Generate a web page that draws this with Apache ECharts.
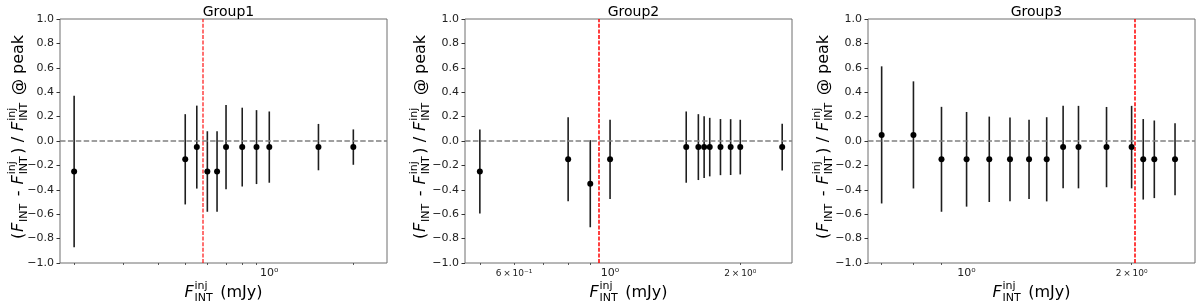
<!DOCTYPE html>
<html><head><meta charset="utf-8">
<script src="https://cdn.jsdelivr.net/npm/echarts@6/dist/echarts.min.js"></script>
<style>html,body{margin:0;padding:0;background:#fff}#c{width:1200px;height:308px}</style>
</head><body><div id="c"></div>
<script>
// ---------------- data ----------------
const groupTitles = ['Group1', 'Group2', 'Group3'];

const g1X   = [0.2, 0.5, 0.55, 0.6, 0.65, 0.7, 0.8, 0.9, 1.0, 1.5, 2.0];
const g1Y   = [-0.25, -0.15, -0.05, -0.25, -0.25, -0.05, -0.05, -0.05, -0.05, -0.05, -0.05];
const g1Err = [0.62, 0.37, 0.34, 0.33, 0.33, 0.345, 0.323, 0.303, 0.292, 0.19, 0.145];

const g2X   = [0.5, 0.8, 0.9, 1.0, 1.5, 1.6, 1.65, 1.7, 1.8, 1.9, 2.0, 2.5];
const g2Y   = [-0.25, -0.15, -0.35, -0.15, -0.05, -0.05, -0.05, -0.05, -0.05, -0.05, -0.05, -0.05];
const g2Err = [0.345, 0.344, 0.357, 0.325, 0.292, 0.27, 0.253, 0.24, 0.23, 0.229, 0.224, 0.191];

const g3X   = [0.7, 0.8, 0.9, 1.0, 1.1, 1.2, 1.3, 1.4, 1.5, 1.6, 1.8, 2.0, 2.1, 2.2, 2.4];
const g3Y   = [0.05, 0.05, -0.15, -0.15, -0.15, -0.15, -0.15, -0.15, -0.05, -0.05, -0.05, -0.05, -0.15, -0.15, -0.15];
const g3Err = [0.562, 0.439, 0.43, 0.388, 0.35, 0.343, 0.325, 0.345, 0.338, 0.338, 0.329, 0.338, 0.33, 0.318, 0.295];

const limitLines = [0.58, 0.94, 2.03];          // red dashed vertical lines
const xLimits = [[0.178, 2.64], [0.462, 2.634], [0.661, 2.61]];
const yMin = -1.0, yMax = 1.0, yStep = 0.2;
const xMajorTicks = [1];
const xMinorTicks = [0.2, 0.3, 0.4, 0.5, 0.6, 0.7, 0.8, 0.9, 2, 3];
const xMinorLabelTicks = [[], [0.6, 2], [2]];
const xMajorLabels = {'1': '10\u2070'};
const xMinorLabels = {'0.6': '6\u2009\u00d7\u200910\u207b\u00b9', '2': '2\u2009\u00d7\u200910\u2070'};

const groupsX = [g1X, g2X, g3X];
const groupsY = [g1Y, g2Y, g3Y];
const groupsErr = [g1Err, g2Err, g3Err];

// ---------------- layout ----------------
const FONT = '"DejaVu Sans", sans-serif';
const panelLeft = [60, 465, 868];
const panelWidth = 327;
const panelTop = 19, panelHeight = 244;
const yNameX = [19, 421, 824];

const measCtx = document.createElement('canvas').getContext('2d');
function tw(t, size, italic) {
  measCtx.font = (italic ? 'italic ' : '') + size + 'px "DejaVu Sans"';
  return measCtx.measureText(t).width;
}
function txt(t, x, y, size, italic) {
  return {type: 'text', x: x, y: y, style: {
    text: t, fontSize: size, fontFamily: FONT, fontStyle: italic ? 'italic' : 'normal',
    fill: '#000', align: 'left', textAlign: 'left', verticalAlign: 'middle', textVerticalAlign: 'middle'}};
}
function mathLabel(pieces, cx, cy, rot) {
  let x = 0; const kids = [];
  pieces.forEach(p => {
    if (p.stack) {
      let w = 0;
      p.stack.forEach(q => { kids.push(txt(q.t, x, q.dy, q.s, false)); w = Math.max(w, tw(q.t, q.s, false)); });
      x += w + (p.after || 0);
    } else {
      kids.push(txt(p.t, x, p.dy || 0, p.s, p.it));
      x += tw(p.t, p.s, p.it) + (p.after || 0);
    }
  });
  kids.forEach(k => { k.x -= x / 2; });
  return {type: 'group', x: cx, y: cy, rotation: rot, children: kids, silent: true};
}
const S = 16, s = 11;
const Fp = {t: 'F', s: S, it: true, after: 0.8};
const subINT = {t: 'INT', s: s, dy: 5, after: 2.5};
const stackInj = {stack: [{t: 'inj', s: s, dy: -7}, {t: 'INT', s: s, dy: 5}], after: 2.5};
const yNamePieces = [{t: '(', s: S, after: 0.8}, Fp, subINT, {t: ' - ', s: S, after: 1}, Fp, stackInj,
  {t: ') / ', s: S, after: 1}, Fp, stackInj, {t: ' @ peak', s: S}];
const xNamePieces = [Fp, stackInj, {t: ' (mJy)', s: S}];

const option = {
  animation: false,
  backgroundColor: '#fff',
  title: [], grid: [], xAxis: [], yAxis: [], series: [], graphic: []
};

for (let i = 0; i < 3; i++) {
  const cx = panelLeft[i] + panelWidth / 2;
  option.title.push({text: groupTitles[i], left: cx, top: 0, textAlign: 'center',
    textStyle: {fontFamily: FONT, fontSize: 14, fontWeight: 'normal', color: '#000'}});
  option.grid.push({left: panelLeft[i], top: panelTop, width: panelWidth, height: panelHeight,
    show: true, borderColor: '#6e6e6e', borderWidth: 1, backgroundColor: 'transparent'});
  // major x axis
  option.xAxis.push({type: 'log', logBase: 10, gridIndex: i, position: 'bottom', min: xLimits[i][0], max: xLimits[i][1],
    axisLine: {show: false}, splitLine: {show: false},
    axisTick: {show: true, customValues: xMajorTicks, length: 3.5, lineStyle: {color: '#333', width: 1}},
    axisLabel: {show: true, customValues: xMajorTicks, margin: 5, fontFamily: FONT, fontSize: 11, color: '#222',
      formatter: v => xMajorLabels[String(+v.toPrecision(3))] || ''}});
  // minor x axis
  option.xAxis.push({type: 'log', logBase: 10, gridIndex: i, position: 'bottom', offset: 0,
    min: xLimits[i][0], max: xLimits[i][1],
    axisLine: {show: false}, splitLine: {show: false},
    axisTick: {show: true, customValues: xMinorTicks, length: 2, lineStyle: {color: '#333', width: 0.8}},
    axisLabel: {show: xMinorLabelTicks[i].length > 0, customValues: xMinorLabelTicks[i].length ? xMinorLabelTicks[i] : [1],
      margin: 6, fontFamily: FONT, fontSize: 9, color: '#222',
      formatter: v => xMinorLabels[String(+v.toPrecision(3))] || ''}});
  option.yAxis.push({type: 'value', gridIndex: i, min: yMin, max: yMax, interval: yStep,
    axisLine: {show: false}, splitLine: {show: false},
    axisTick: {show: true, length: 3.5, lineStyle: {color: '#333', width: 1}},
    axisLabel: {margin: 6, fontFamily: FONT, fontSize: 11, color: '#222',
      formatter: v => v.toFixed(1).replace('-', '\u2212')}});

  const xs = groupsX[i], ys = groupsY[i], es = groupsErr[i];
  const rows = xs.map((x, k) => [x, ys[k], ys[k] - es[k], ys[k] + es[k]]);

  // reference lines
  option.series.push({type: 'line', xAxisIndex: 2 * i, yAxisIndex: i, data: [], z: 1, silent: true,
    markLine: {silent: true, symbol: ['none', 'none'], label: {show: false}, animation: false,
      data: [
        {yAxis: 0, lineStyle: {color: '#808080', type: [5.5, 2.4], width: 1.5}},
        {xAxis: limitLines[i], lineStyle: {color: '#ff0000', opacity: i === 0 ? 0.75 : 1, type: [4, 1.6], width: 1.5}}
      ]}});
  // error bars
  option.series.push({type: 'custom', xAxisIndex: 2 * i, yAxisIndex: i, z: 2, silent: true,
    data: rows, encode: {x: 0, y: 1},
    renderItem: function (params, api) {
      const p1 = api.coord([api.value(0), api.value(2)]);
      const p2 = api.coord([api.value(0), api.value(3)]);
      return {type: 'line', shape: {x1: p1[0], y1: p1[1], x2: p2[0], y2: p2[1]},
        style: {stroke: '#1e1e1e', lineWidth: 1.6}};
    }});
  // markers
  option.series.push({type: 'scatter', xAxisIndex: 2 * i, yAxisIndex: i, z: 3, silent: true,
    data: rows.map(r => [r[0], r[1]]), symbol: 'circle', symbolSize: 6,
    itemStyle: {color: '#000', opacity: 1}});

  option.graphic.push(mathLabel(yNamePieces, yNameX[i], panelTop + panelHeight / 2 - 4, Math.PI / 2));
  option.graphic.push(mathLabel(xNamePieces, cx, 293, 0));
}

const chart = echarts.init(document.getElementById('c'), null, {renderer: 'canvas'});
chart.setOption(option);
</script>
</body></html>
